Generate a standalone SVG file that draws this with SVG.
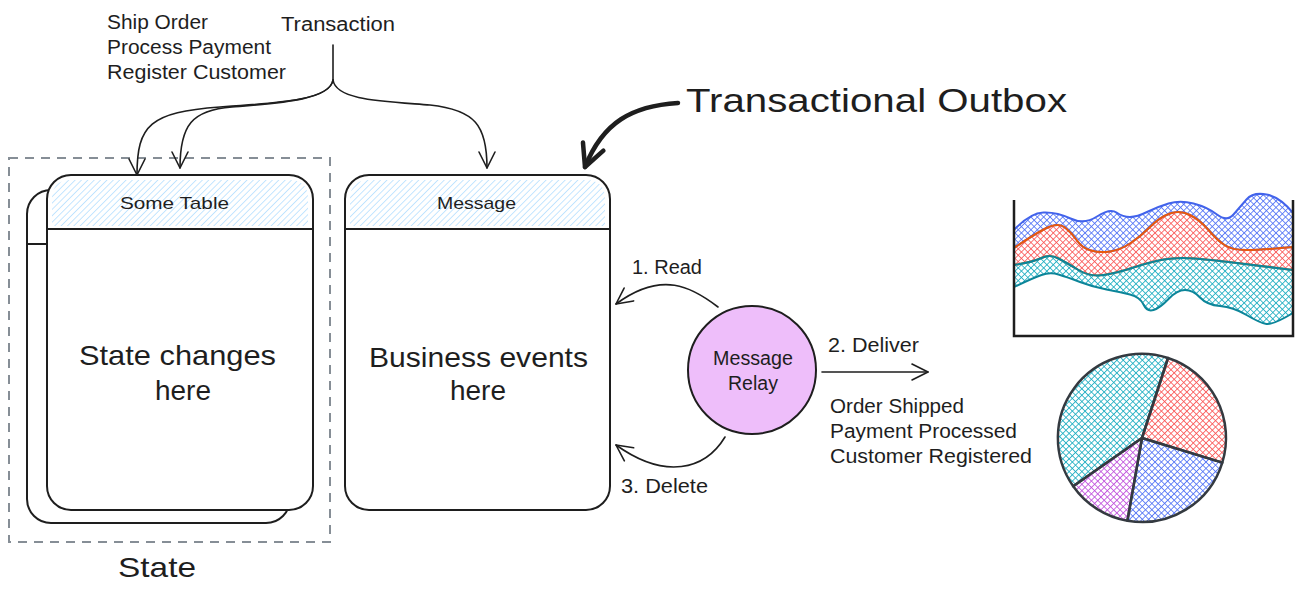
<svg xmlns="http://www.w3.org/2000/svg" width="1304" height="595" viewBox="0 0 1304 595">
<style>
  text { font-family: "Liberation Sans", "Open Sans", sans-serif; fill: #1e1e1e; }
  .t20 { font-size: 20px; }
  .t17 { font-size: 17px; }
  .t28 { font-size: 28px; }
  .t34 { font-size: 34px; }
  .card { fill: #ffffff; stroke: #1e1e1e; stroke-width: 2; }
  .line { fill: none; stroke: #1e1e1e; stroke-width: 2; stroke-linecap: round; }
  .conn { fill: none; stroke: #1e1e1e; stroke-width: 1.6; stroke-linecap: round; }
  .axis { fill: none; stroke: #1e1e1e; stroke-width: 2.5; }
  .slice { stroke: #343a40; stroke-width: 2.5; stroke-linejoin: round; }
</style>
<defs>
  <pattern id="hatchHeader" width="4.5" height="4.5" patternUnits="userSpaceOnUse" patternTransform="rotate(45)">
    <line x1="0" y1="0" x2="0" y2="4.5" stroke="#a5d8ff" stroke-width="1.3"/>
  </pattern>
  <pattern id="xBlue" width="4.5" height="4.5" patternUnits="userSpaceOnUse" patternTransform="rotate(45)">
    <line x1="0" y1="0" x2="0" y2="4.5" stroke="#4c6ef5" stroke-width="1.6"/>
    <line x1="0" y1="0" x2="4.5" y2="0" stroke="#4c6ef5" stroke-width="1.6"/>
  </pattern>
  <pattern id="xRed" width="4.5" height="4.5" patternUnits="userSpaceOnUse" patternTransform="rotate(45)">
    <line x1="0" y1="0" x2="0" y2="4.5" stroke="#fa5252" stroke-width="1.6"/>
    <line x1="0" y1="0" x2="4.5" y2="0" stroke="#fa5252" stroke-width="1.6"/>
  </pattern>
  <pattern id="xTeal" width="4.5" height="4.5" patternUnits="userSpaceOnUse" patternTransform="rotate(45)">
    <line x1="0" y1="0" x2="0" y2="4.5" stroke="#15aabf" stroke-width="1.6"/>
    <line x1="0" y1="0" x2="4.5" y2="0" stroke="#15aabf" stroke-width="1.6"/>
  </pattern>
  <pattern id="xPurple" width="4.5" height="4.5" patternUnits="userSpaceOnUse" patternTransform="rotate(45)">
    <line x1="0" y1="0" x2="0" y2="4.5" stroke="#be4bdb" stroke-width="1.6"/>
    <line x1="0" y1="0" x2="4.5" y2="0" stroke="#be4bdb" stroke-width="1.6"/>
  </pattern>
  <marker id="arr" viewBox="0 0 20 20" refX="18" refY="10" markerWidth="20" markerHeight="20" markerUnits="userSpaceOnUse" orient="auto">
    <path d="M2,2 L18,10 L2,18" fill="none" stroke="#1e1e1e" stroke-width="1.6" stroke-linecap="round" stroke-linejoin="round"/>
  </marker>
  <marker id="arrThick" viewBox="0 0 30 30" refX="27" refY="15" markerWidth="30" markerHeight="30" markerUnits="userSpaceOnUse" orient="auto">
    <path d="M5,4 L27,15 L5,26" fill="none" stroke="#1e1e1e" stroke-width="4.5" stroke-linecap="round" stroke-linejoin="round"/>
  </marker>
</defs>

<rect width="1304" height="595" fill="#ffffff"/>

<!-- State group (dashed frame) -->
<g id="state-frame">
  <rect x="9" y="158" width="321" height="384" fill="none" stroke="#868e96" stroke-width="2" stroke-dasharray="9 7"/>
  <text class="t28" x="118" y="577" textLength="78" lengthAdjust="spacingAndGlyphs">State</text>
</g>

<!-- Back card (stacked) -->
<g id="state-table-back">
  <rect class="card" x="27" y="190" width="263" height="333" rx="24"/>
  <line class="line" x1="27" y1="244" x2="47" y2="244"/>
</g>

<!-- Some Table card -->
<g id="some-table">
  <rect class="card" x="47" y="175" width="266" height="335" rx="24"/>
  <path d="M52,226 L52,199 Q52,180 71,180 L289,180 Q308,180 308,199 L308,226 Z" fill="url(#hatchHeader)"/>
  <line class="line" x1="47" y1="229" x2="313" y2="229"/>
  <text class="t17" x="120" y="209" textLength="109" lengthAdjust="spacingAndGlyphs">Some Table</text>
  <text class="t28" x="79" y="365" textLength="197" lengthAdjust="spacingAndGlyphs">State changes</text>
  <text class="t28" x="155" y="400" textLength="56" lengthAdjust="spacingAndGlyphs">here</text>
</g>

<!-- Message card -->
<g id="message-table">
  <rect class="card" x="345" y="175" width="265" height="335" rx="24"/>
  <path d="M350,226 L350,199 Q350,180 369,180 L586,180 Q605,180 605,199 L605,226 Z" fill="url(#hatchHeader)"/>
  <line class="line" x1="345" y1="229" x2="610" y2="229"/>
  <text class="t17" x="437" y="209" textLength="79" lengthAdjust="spacingAndGlyphs">Message</text>
  <text class="t28" x="369" y="367" textLength="219" lengthAdjust="spacingAndGlyphs">Business events</text>
  <text class="t28" x="450" y="400" textLength="56" lengthAdjust="spacingAndGlyphs">here</text>
</g>

<!-- Message Relay -->
<g id="message-relay">
  <circle cx="752" cy="370" r="64" fill="#eebefa" stroke="#1e1e1e" stroke-width="2"/>
  <text class="t20" x="713" y="365" textLength="80" lengthAdjust="spacingAndGlyphs">Message</text>
  <text class="t20" x="728" y="390" textLength="50" lengthAdjust="spacingAndGlyphs">Relay</text>
</g>

<!-- Labels -->
<g id="labels">
  <text class="t20" x="107" y="29" textLength="101" lengthAdjust="spacingAndGlyphs">Ship Order</text>
  <text class="t20" x="107" y="54" textLength="164" lengthAdjust="spacingAndGlyphs">Process Payment</text>
  <text class="t20" x="107" y="79" textLength="179" lengthAdjust="spacingAndGlyphs">Register Customer</text>
  <text class="t20" x="281" y="31" textLength="114" lengthAdjust="spacingAndGlyphs">Transaction</text>
  <text class="t34" x="686" y="112" textLength="381" lengthAdjust="spacingAndGlyphs">Transactional Outbox</text>
  <text class="t20" x="632" y="274" textLength="70" lengthAdjust="spacingAndGlyphs">1. Read</text>
  <text class="t20" x="828" y="352" textLength="91" lengthAdjust="spacingAndGlyphs">2. Deliver</text>
  <text class="t20" x="621" y="493" textLength="87" lengthAdjust="spacingAndGlyphs">3. Delete</text>
  <text class="t20" x="830" y="413" textLength="134" lengthAdjust="spacingAndGlyphs">Order Shipped</text>
  <text class="t20" x="830" y="438" textLength="187" lengthAdjust="spacingAndGlyphs">Payment Processed</text>
  <text class="t20" x="830" y="463" textLength="202" lengthAdjust="spacingAndGlyphs">Customer Registered</text>
</g>

<!-- Connectors -->
<g id="connectors">
  <path class="conn" d="M333,45 L333,80"/>
  <path class="conn" d="M333,80 C330,100 280,103 220,107 C150,112 137,125 137,175" marker-end="url(#arr)"/>
  <path class="conn" d="M333,80 C330,100 280,103 232,107 C192,110 180,125 180,168" marker-end="url(#arr)"/>
  <path class="conn" d="M333,80 C336,100 380,101 430,105 C475,110 487,125 487,168" marker-end="url(#arr)"/>
  <path d="M678,103 C632,106 603,122 585,167" fill="none" stroke="#1e1e1e" stroke-width="4.5" stroke-linecap="round" marker-end="url(#arrThick)"/>
  <path class="conn" d="M718,307 C692,287 662,270 616,304" marker-end="url(#arr)"/>
  <path class="conn" d="M725,437 C705,470 665,480 616,445" marker-end="url(#arr)"/>
  <path class="conn" d="M822,372 L928,372" marker-end="url(#arr)"/>
</g>

<!-- Area chart -->
<g id="area-chart">
  <path d="M1014,230 Q1030,213 1043.5,212.5 Q1057,212 1070.5,218.5 Q1084,225 1097,216.5 Q1110,208 1116.5,212.5 Q1123,217 1130,217 Q1137,217 1147,212 Q1157,207 1168.5,203.5 Q1180,200 1193.5,203.5 Q1207,207 1217,214.5 Q1227,222 1233.5,214.5 Q1240,207 1246.5,199.5 Q1253,192 1266.5,194.5 Q1280,197 1293,213 L1293,247 Q1260,250 1246,250 Q1232,250 1224.5,245 Q1217,240 1208.5,230 Q1200,220 1190,215 Q1180,210 1170,213.5 Q1160,217 1150,227 Q1140,237 1130,243.5 Q1120,250 1110,251.5 Q1100,253 1091,250.5 Q1082,248 1077,240.5 Q1072,233 1065,227.5 Q1058,222 1045.5,228.5 Q1033,235 1014,248 Z" fill="url(#xBlue)" stroke="#4263eb" stroke-width="2" stroke-linejoin="round"/>
  <path d="M1014,248 Q1033,235 1045.5,228.5 Q1058,222 1065,227.5 Q1072,233 1077,240.5 Q1082,248 1091,250.5 Q1100,253 1110,251.5 Q1120,250 1130,243.5 Q1140,237 1150,227 Q1160,217 1170,213.5 Q1180,210 1190,215 Q1200,220 1208.5,230 Q1217,240 1224.5,245 Q1232,250 1246,250 Q1260,250 1293,247 L1293,270 Q1253,265 1233,262.5 Q1213,260 1195,258.5 Q1177,257 1163.5,259.5 Q1150,262 1133.5,267.5 Q1117,273 1103.5,275 Q1090,277 1078.5,270 Q1067,263 1058.5,258.5 Q1050,254 1041.5,258 Q1033,262 1014,265 Z" fill="url(#xRed)" stroke="#e8590c" stroke-width="2" stroke-linejoin="round"/>
  <path d="M1014,265 Q1033,262 1041.5,258 Q1050,254 1058.5,258.5 Q1067,263 1078.5,270 Q1090,277 1103.5,275 Q1117,273 1133.5,267.5 Q1150,262 1163.5,259.5 Q1177,257 1195,258.5 Q1213,260 1233,262.5 Q1253,265 1293,270 L1293,313 Q1273,325 1266.5,324 Q1260,323 1246.5,315 Q1233,307 1220,306 Q1207,305 1200,297.5 Q1193,290 1185,290 Q1177,290 1168.5,299 Q1160,308 1153.5,310 Q1147,312 1143.5,304.5 Q1140,297 1130,294.5 Q1120,292 1106.5,289.5 Q1093,287 1080,282 Q1067,277 1058.5,274.5 Q1050,272 1041.5,275 Q1033,278 1014,287 Z" fill="url(#xTeal)" stroke="#0c8599" stroke-width="2" stroke-linejoin="round"/>
  <path class="axis" d="M1014,200 L1014,336 L1293,336 L1293,200"/>
</g>

<!-- Pie chart -->
<g id="pie-chart">
  <path class="slice" d="M1142,438 L1073.2,486.2 A84,84 0 0 1 1168,358 Z" fill="url(#xTeal)"/>
  <path class="slice" d="M1142,438 L1168,358 A84,84 0 0 1 1222.3,462.6 Z" fill="url(#xRed)"/>
  <path class="slice" d="M1142,438 L1222.3,462.6 A84,84 0 0 1 1127.4,520.7 Z" fill="url(#xBlue)"/>
  <path class="slice" d="M1142,438 L1127.4,520.7 A84,84 0 0 1 1073.2,486.2 Z" fill="url(#xPurple)"/>
</g>
</svg>
